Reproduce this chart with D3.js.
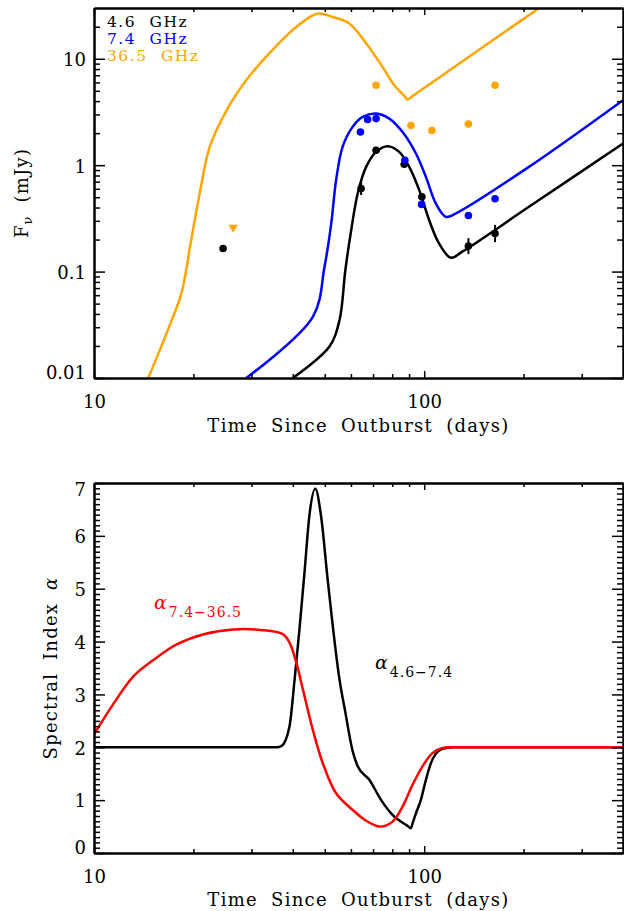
<!DOCTYPE html>
<html>
<head>
<meta charset="utf-8">
<script src="https://cdn.jsdelivr.net/npm/d3@7"></script>
<style>
  body { margin: 0; background: #fff; }
  text { font-family: "DejaVu Serif", serif; fill: #000; }
</style>
</head>
<body>
<div id="chart"></div>
<script>
// --- data ---
// model light curves: [days, mJy]
const model46 = [[40.0,0.01],[51.6,0.0197],[55.4,0.035],[57.7,0.103],[60.1,0.245],[62.9,0.542],[66.7,0.964],
  [71.5,1.333],[77.5,1.508],[84.0,1.333],[90.1,0.964],[96.6,0.583],[103.5,0.305],[110.9,0.184],[120.4,0.135],
  [130.5,0.154],[207.6,0.406],[400,1.60]];
const model74 = [[28.9,0.01],[46.0,0.0376],[49.9,0.111],[52.3,0.284],[54.1,0.723],[56.6,1.486],[60.7,2.29],
  [65.1,2.84],[71.5,3.06],[78.4,2.74],[86.0,2.05],[94.4,1.288],[101.2,0.776],[108.4,0.437],[116.3,0.327],
  [124.7,0.352],[207.6,0.964],[400,4.08]];
const model365 = [[14.6,0.01],[17.2,0.035],[18.4,0.0628],[19.7,0.198],[20.9,0.546],[22.4,1.476],[25.2,3.28],
  [28.9,6.28],[34.0,11.3],[40.9,19.8],[47.6,26.6],[52.8,24.7],[59.3,21.5],[66.7,14.0],[74.8,8.38],[81.2,5.64],
  [87.1,4.47],[89.0,4.14],[92.0,4.44],[120,7.88],[160,14.7],[220,29.1],[300,56.7],[400,105]];

// measurements: [days, mJy, lo, hi]
const obs46 = [[24.6,0.165],[64.4,0.604,0.525,0.695],[71.5,1.38],[87.0,1.02],[98.4,0.504],
  [136.1,0.174,0.146,0.206],[163.9,0.228,0.189,0.275]];
const obs74 = [[64.1,2.05],[67.4,2.69],[71.5,2.74],[87.4,1.11],[98.2,0.428],[136.1,0.337],[163.9,0.483]];
const obs365 = [[71.5,5.64],[91.2,2.36],[105.5,2.12],[136.1,2.44],[163.9,5.64]];
const limit365 = [[26.4,0.26]];

// spectral indices: [days, alpha]
const alpha4674 = [[10,2.0],[35.8,2.0],[36.9,2.02],[39.1,2.40],[40.5,3.28],[41.9,4.23],[43.4,5.31],[44.9,6.38],
  [46.8,6.89],[48.7,6.38],[51.0,5.18],[55.4,3.28],[57.7,2.66],[60.6,1.95],[62.9,1.64],[68.2,1.385],[74.0,1.006],
  [80.2,0.72],[88.8,0.518],[91.2,0.469],[92.3,0.57],[94.4,0.75],[97.7,1.006],[101.2,1.385],[104.8,1.70],
  [108.5,1.88],[113.6,1.97],[121.8,2.0],[400,2.0]];
const alpha74365 = [[10,2.24],[11.5,2.84],[13.2,3.35],[15.2,3.66],[17.85,3.95],[21.5,4.14],[26.5,4.23],[31.9,4.22],
  [37.3,4.14],[39.1,3.98],[41.0,3.60],[42.9,3.10],[46.0,2.33],[49.3,1.70],[54.1,1.13],[60.7,0.816],[66.7,0.61],
  [73.5,0.50],[80.2,0.594],[86.0,0.879],[92.2,1.29],[98.8,1.638],[105.9,1.89],[113.6,1.987],[121.8,2.0],
  [150,2.0],[250,2.0],[400,2.0]];

const legendLabels = ['4.6 GHz', '7.4 GHz', '36.5 GHz'];
const xMajor = [10, 100];
const xMinor = [20, 30, 40, 50, 60, 70, 80, 90, 200, 300];
const fluxMajor = [0.01, 0.1, 1, 10];
const fluxLabels = ['0.01', '0.1', '1', '10'];
const alphaMajor = [0, 1, 2, 3, 4, 5, 6, 7];

const BLACK = '#000', BLUE = '#0000ff', ORANGE = '#ffa500', RED = '#ff0000';

// --- layout ---
const W = 624, H = 911;
const L = 94, R = 623;
const svg = d3.select('#chart').append('svg').attr('width', W).attr('height', H);

const x = d3.scaleLog().domain([10, 400]).range([L, R]);
const yFlux = d3.scaleLog().domain([0.01, 30]).range([378, 8]);
const yAlpha = d3.scaleLinear().domain([0, 7]).range([853, 483]);

const fluxMinor = [];
[0.01, 0.1, 1, 10].forEach(dec => { for (let k = 2; k <= 9; k++) if (dec * k < 30) fluxMinor.push(dec * k); });
const alphaMinor = d3.range(1, 70).filter(i => i % 10).map(i => i / 10);

function styleAxis(g) {
  g.select('.domain').attr('stroke', '#000').attr('stroke-width', 2);
  g.selectAll('.tick line').attr('stroke', '#000').attr('stroke-width', 1.5);
  g.selectAll('text').attr('font-family', '"DejaVu Serif", serif').attr('font-size', 18).attr('fill', '#000');
}

function frame(y, yMajor, yMinor, yFmt) {
  const [yb, yt] = y.range();
  const g = svg.append('g');
  g.append('g').attr('transform', `translate(0,${yb})`)
    .call(d3.axisBottom(x).tickValues(xMajor).tickSize(-7).tickSizeOuter(0).tickPadding(17).tickFormat(d3.format('d')))
    .call(styleAxis);
  g.append('g').attr('transform', `translate(0,${yb})`)
    .call(d3.axisBottom(x).tickValues(xMinor).tickSize(-4).tickSizeOuter(0).tickFormat(''))
    .call(styleAxis);
  g.append('g').attr('transform', `translate(0,${yt})`)
    .call(d3.axisTop(x).tickValues(xMajor).tickSize(-7).tickSizeOuter(0).tickFormat(''))
    .call(styleAxis);
  g.append('g').attr('transform', `translate(0,${yt})`)
    .call(d3.axisTop(x).tickValues(xMinor).tickSize(-4).tickSizeOuter(0).tickFormat(''))
    .call(styleAxis);
  const left = g.append('g').attr('transform', `translate(${L},0)`)
    .call(d3.axisLeft(y).tickValues(yMajor).tickSize(-11).tickSizeOuter(0).tickPadding(8).tickFormat(yFmt))
    .call(styleAxis);
  // IDL nudges the end labels inward
  const dom = y.domain();
  left.selectAll('.tick text').attr('dy', d => d === dom[0] ? '0.05em' : d === dom[1] ? '0.67em' : '0.38em');
  g.append('g').attr('transform', `translate(${L},0)`)
    .call(d3.axisLeft(y).tickValues(yMinor).tickSize(-6).tickSizeOuter(0).tickFormat(''))
    .call(styleAxis);
  g.append('g').attr('transform', `translate(${R},0)`)
    .call(d3.axisRight(y).tickValues(yMajor).tickSize(-11).tickSizeOuter(0).tickFormat(''))
    .call(styleAxis);
  g.append('g').attr('transform', `translate(${R},0)`)
    .call(d3.axisRight(y).tickValues(yMinor).tickSize(-6).tickSizeOuter(0).tickFormat(''))
    .call(styleAxis);
  return g;
}

function clip(id, y) {
  const [yb, yt] = y.range();
  svg.append('clipPath').attr('id', id).append('rect')
    .attr('x', L).attr('y', yt).attr('width', R - L).attr('height', yb - yt);
}

// ===== top panel: light curves =====
clip('clipTop', yFlux);
const lineFlux = d3.line().x(d => x(d[0])).y(d => yFlux(d[1])).curve(d3.curveCatmullRom.alpha(0.5));
const curves = svg.append('g').attr('clip-path', 'url(#clipTop)');
[[model365, ORANGE], [model74, BLUE], [model46, BLACK]].forEach(([data, c]) => {
  curves.append('path').datum(data).attr('d', lineFlux)
    .attr('fill', 'none').attr('stroke', c).attr('stroke-width', 2.5);
});

const pts = svg.append('g');
pts.selectAll('line.err').data(obs46.filter(d => d.length > 2)).join('line').attr('class', 'err')
  .attr('x1', d => x(d[0])).attr('x2', d => x(d[0]))
  .attr('y1', d => yFlux(d[2])).attr('y2', d => yFlux(d[3]))
  .attr('stroke', BLACK).attr('stroke-width', 2);
[[obs46, BLACK], [obs74, BLUE], [obs365, ORANGE]].forEach(([data, c]) => {
  pts.append('g').selectAll('circle').data(data).join('circle')
    .attr('cx', d => x(d[0])).attr('cy', d => yFlux(d[1])).attr('r', 3.8).attr('fill', c);
});
pts.selectAll('path.lim').data(limit365).join('path').attr('class', 'lim')
  .attr('d', d3.symbol().type(d3.symbolTriangle).size(38))
  .attr('transform', d => `translate(${x(d[0])},${yFlux(d[1])}) rotate(180)`)
  .attr('fill', ORANGE);

frame(yFlux, fluxMajor, fluxMinor, (d, i) => fluxLabels[i]);

// legend
const legendColors = [BLACK, BLUE, ORANGE];
svg.append('g').selectAll('text').data(legendLabels).join('text')
  .attr('x', 107).attr('y', (d, i) => 26.5 + i * 17)
  .attr('font-size', 15.5).attr('letter-spacing', 1.5).attr('word-spacing', 7)
  .style('fill', (d, i) => legendColors[i]).text(d => d);

// axis titles
const fyTitle = svg.append('text').attr('transform', 'translate(28,193) rotate(-90)')
  .attr('text-anchor', 'middle').attr('font-size', 18).attr('letter-spacing', 1.2).attr('word-spacing', 6);
fyTitle.append('tspan').text('F');
fyTitle.append('tspan').attr('font-size', 13).attr('dy', 4).text('\u03bd');
fyTitle.append('tspan').attr('dy', -4).text(' (mJy)');

svg.append('text').attr('x', 358.5).attr('y', 431.5).attr('text-anchor', 'middle')
  .attr('font-size', 18).attr('letter-spacing', 1.3).attr('word-spacing', 6)
  .text('Time Since Outburst (days)');

// ===== bottom panel: spectral index =====
clip('clipBot', yAlpha);
const lineMono = d3.line().x(d => x(d[0])).y(d => yAlpha(d[1])).curve(d3.curveMonotoneX);
const lineSmooth = d3.line().x(d => x(d[0])).y(d => yAlpha(d[1])).curve(d3.curveCatmullRom.alpha(0.5));
const acurves = svg.append('g').attr('clip-path', 'url(#clipBot)');
acurves.append('path').datum(alpha4674).attr('d', lineMono)
  .attr('fill', 'none').attr('stroke', BLACK).attr('stroke-width', 2.5);
acurves.append('path').datum(alpha74365).attr('d', lineSmooth)
  .attr('fill', 'none').attr('stroke', RED).attr('stroke-width', 2.5);

frame(yAlpha, alphaMajor, alphaMinor, d3.format('d'));

function alphaLabel(xp, yp, sub, color) {
  const t = svg.append('text').attr('x', xp).attr('y', yp).style('fill', color);
  t.append('tspan').attr('font-size', 19).attr('font-style', 'italic').text('\u03b1');
  t.append('tspan').attr('font-size', 14).attr('dx', 2).attr('dy', 8).attr('letter-spacing', 1).text(sub);
}
alphaLabel(154, 609, '7.4\u221236.5', RED);
alphaLabel(375, 669, '4.6\u22127.4', BLACK);

const ayTitle = svg.append('text').attr('transform', 'translate(57,668) rotate(-90)')
  .attr('text-anchor', 'middle').attr('font-size', 18).attr('letter-spacing', 1.2).attr('word-spacing', 6);
ayTitle.append('tspan').text('Spectral Index ');
ayTitle.append('tspan').attr('font-style', 'italic').text('\u03b1');

svg.append('text').attr('x', 358.5).attr('y', 906).attr('text-anchor', 'middle')
  .attr('font-size', 18).attr('letter-spacing', 1.3).attr('word-spacing', 6)
  .text('Time Since Outburst (days)');
</script>
</body>
</html>
